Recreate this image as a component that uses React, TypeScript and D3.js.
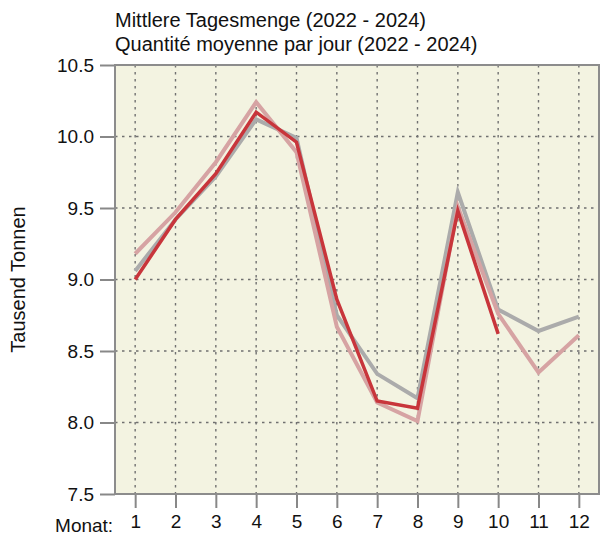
import { useEffect, useRef } from 'react';
import * as d3 from 'd3';

// Monate 1..12
const months = [1, 2, 3, 4, 5, 6, 7, 8, 9, 10, 11, 12];
const yTicks = [7.5, 8.0, 8.5, 9.0, 9.5, 10.0, 10.5];

// Tausend Tonnen pro Tag
const series2022 = [9.06, 9.42, 9.72, 10.12, 9.99, 8.75, 8.34, 8.17, 9.61, 8.79, 8.64, 8.74];
const series2023 = [9.18, 9.47, 9.82, 10.24, 9.89, 8.67, 8.14, 8.01, 9.51, 8.76, 8.35, 8.61];
const series2024 = [9.0, 9.42, 9.74, 10.17, 9.96, 8.86, 8.15, 8.1, 9.48, 8.62];

const titleLines = ['Mittlere Tagesmenge (2022 - 2024)', 'Quantité moyenne par jour (2022 - 2024)'];

export default function App() {
  const ref = useRef<SVGSVGElement | null>(null);

  useEffect(() => {
    const svg = d3.select(ref.current);
    svg.selectAll('*').remove();

    const font = '"Liberation Sans", Arial, sans-serif';
    const left = 115, right = 599, top = 65, bottom = 494;

    const x = d3.scaleLinear().domain([0.5, 12.5]).range([left, right]);
    const y = d3.scaleLinear().domain([7.5, 10.5]).range([bottom, top]);

    // Hintergrund
    svg.append('rect')
      .attr('x', left).attr('y', top)
      .attr('width', right - left).attr('height', bottom - top)
      .attr('fill', '#f3f3e1');

    // Gitter
    const grid = svg.append('g').attr('stroke', '#707070').attr('stroke-width', 1.4).attr('stroke-dasharray', '2.5,4.5');
    grid.selectAll('.vg').data(months).enter().append('line')
      .attr('x1', d => x(d)).attr('x2', d => x(d))
      .attr('y1', top).attr('y2', bottom);
    grid.selectAll('.hg').data(yTicks.slice(1, -1)).enter().append('line')
      .attr('x1', left).attr('x2', right)
      .attr('y1', d => y(d)).attr('y2', d => y(d));

    // Achsen
    const yAxis = d3.axisLeft(y).tickValues(yTicks).tickSize(15).tickPadding(6).tickFormat(d3.format('.1f'));
    const gy = svg.append('g').attr('transform', `translate(${left},0)`).call(yAxis);
    gy.select('.domain').remove();
    gy.selectAll('line').attr('stroke', '#888').attr('stroke-width', 2);
    gy.selectAll('text').attr('font-family', font).attr('font-size', 19).attr('fill', '#111');

    const xAxis = d3.axisBottom(x).tickValues(months).tickSize(14).tickPadding(7).tickFormat(d3.format('d'));
    const gx = svg.append('g').attr('transform', `translate(0,${bottom})`).call(xAxis);
    gx.select('.domain').remove();
    gx.selectAll('line').attr('stroke', '#888').attr('stroke-width', 2);
    gx.selectAll('text').attr('font-family', font).attr('font-size', 19).attr('fill', '#111');

    svg.append('text')
      .attr('x', x(1) - 22).attr('y', bottom + 38)
      .attr('text-anchor', 'end')
      .attr('font-family', font).attr('font-size', 19).attr('fill', '#111')
      .text('Monat:');

    // Linien
    const line = d3.line<number>().x((_, i) => x(months[i])).y(d => y(d));
    const drawn = [
      { data: series2022, color: '#ababab', w: 4 },
      { data: series2023, color: '#d6a3a3', w: 4 },
      { data: series2024, color: '#c8353b', w: 3.5 },
    ];
    drawn.forEach(s => {
      svg.append('path')
        .datum(s.data)
        .attr('d', line)
        .attr('fill', 'none')
        .attr('stroke', s.color)
        .attr('stroke-width', s.w)
        .attr('stroke-linejoin', 'miter');
    });

    // Rahmen
    svg.append('rect')
      .attr('x', left).attr('y', top)
      .attr('width', right - left).attr('height', bottom - top)
      .attr('fill', 'none').attr('stroke', '#8c8c8c').attr('stroke-width', 2);

    // Titel
    svg.selectAll('.title').data(titleLines).enter().append('text')
      .attr('x', left).attr('y', (_, i) => 27 + i * 24)
      .attr('font-family', font).attr('font-size', 20).attr('fill', '#111')
      .text(d => d);

    svg.append('text')
      .attr('transform', `translate(25,${(top + bottom) / 2}) rotate(-90)`)
      .attr('text-anchor', 'middle')
      .attr('font-family', font).attr('font-size', 20).attr('fill', '#111')
      .text('Tausend Tonnen');
  }, []);

  return (
    <svg ref={ref} width={601} height={536}
      style={{ position: 'absolute', left: 0, top: 0, background: '#fff' }} />
  );
}
